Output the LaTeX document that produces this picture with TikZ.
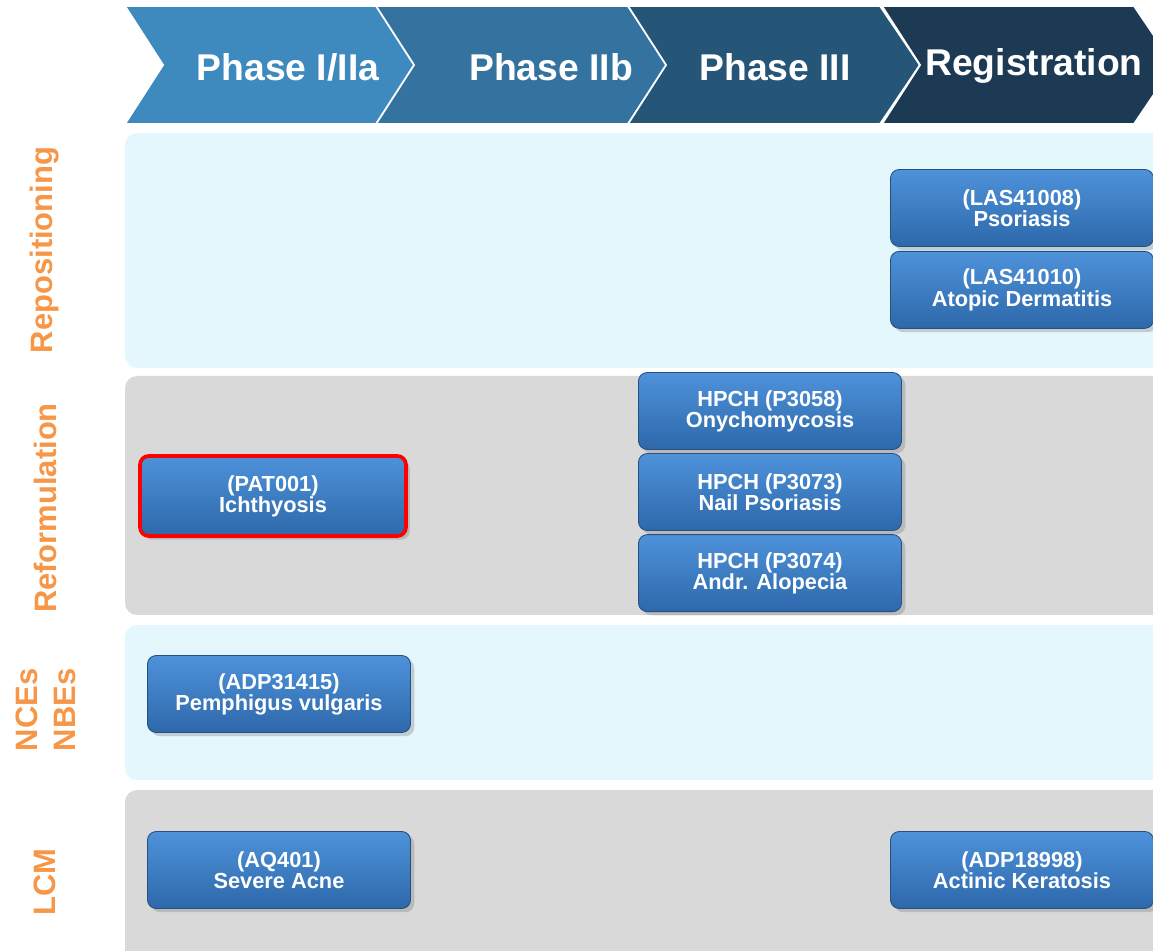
\documentclass[tikz,border=0pt]{standalone}
\usepackage{fontspec}
\setmainfont{Liberation Sans}
\usetikzlibrary{positioning,shadows}

\definecolor{phaseA}{RGB}{62,138,191}
\definecolor{phaseB}{RGB}{52,114,159}
\definecolor{phaseC}{RGB}{37,86,119}
\definecolor{phaseD}{RGB}{29,58,84}
\definecolor{bandcyan}{RGB}{228,247,253}
\definecolor{bandgrey}{RGB}{217,217,217}
\definecolor{sideorange}{RGB}{247,150,70}
\definecolor{boxtop}{RGB}{78,146,218}
\definecolor{boxbot}{RGB}{45,104,170}
\definecolor{boxline}{RGB}{38,80,130}

\begin{document}
\begin{tikzpicture}[x=0.025cm,y=-0.025cm,
    chevron/.style={draw=white,line width=1.3pt},
    phaselabel/.style={text=white,font=\bfseries\fontsize{26.5}{30}\selectfont},
    band/.style={rounded corners=0.3cm},
    sidelabel/.style={text=sideorange,rotate=90,align=center,font=\bfseries\fontsize{22}{27}\selectfont},
    trial/.style={rounded corners=0.22cm,draw=boxline,line width=0.6pt,
      top color=boxtop,bottom color=boxbot,drop shadow={opacity=0.35},
      minimum width=6.575cm,minimum height=1.925cm,inner sep=0pt,
      align=center,text=white,font=\bfseries\fontsize{15.5}{15}\selectfont},
    lead/.style={trial,draw=red,line width=2.6pt,minimum width=6.65cm,minimum height=2.0cm}]
  \useasboundingbox (0,0) rectangle (1153,951);
  \clip (0,0) rectangle (1153,951);

  % bands
  \fill[band,bandcyan] (125,133) rectangle (1170,368);
  \fill[band,bandgrey] (125,376) rectangle (1170,615);
  \fill[band,bandcyan] (125,625) rectangle (1170,780);
  \fill[band,bandgrey] (125,790) rectangle (1170,965);

  % phase chevrons
  \foreach \x/\col in {125/phaseA,376/phaseB,628/phaseC,882/phaseD}
    \filldraw[chevron,fill=\col] (\x,6) -- (\x+252,6) -- (\x+292,65) -- (\x+252,124)
      -- (\x,124) -- (\x+38,65) -- cycle;
  \node[phaselabel] (ph1) at (288,67) {Phase I/IIa};
  \node[phaselabel] (ph2) at (551,67) {Phase IIb};
  \node[phaselabel] (ph3) at (775,67) {Phase III};
  \node[phaselabel] (ph4) at (1034,66) {Registration};

  % side labels
  \node[sidelabel] (repo) at (45,250) {Repositioning};
  \node[sidelabel] (reform) at (45,508) {Reformulation};
  \node[sidelabel] (nce) at (46,710) {NCEs\\NBEs};
  \node[sidelabel] (lcm) at (45,882) {LCM};

  % compounds
  \node[trial] (las08) at (1022,208) {(LAS41008)\\Psoriasis};
  \node[trial,below=0.1cm of las08] (las10) {(LAS41010)\\Atopic Dermatitis};
  \node[trial] (p3058) at (770,411) {HPCH (P3058)\\Onychomycosis};
  \node[trial,below=0.08cm of p3058] (p3073) {HPCH (P3073)\\Nail Psoriasis};
  \node[trial,below=0.08cm of p3073] (p3074) {HPCH (P3074)\\Andr. Alopecia};
  \node[lead] (pat) at (273,496) {(PAT001)\\Ichthyosis};
  \node[trial] (adp31) at (279,694) {(ADP31415)\\Pemphigus vulgaris};
  \node[trial] (aq) at (279,870) {(AQ401)\\Severe Acne};
  \node[trial] (adp18) at (1022,870) {(ADP18998)\\Actinic Keratosis};
\end{tikzpicture}
\end{document}
